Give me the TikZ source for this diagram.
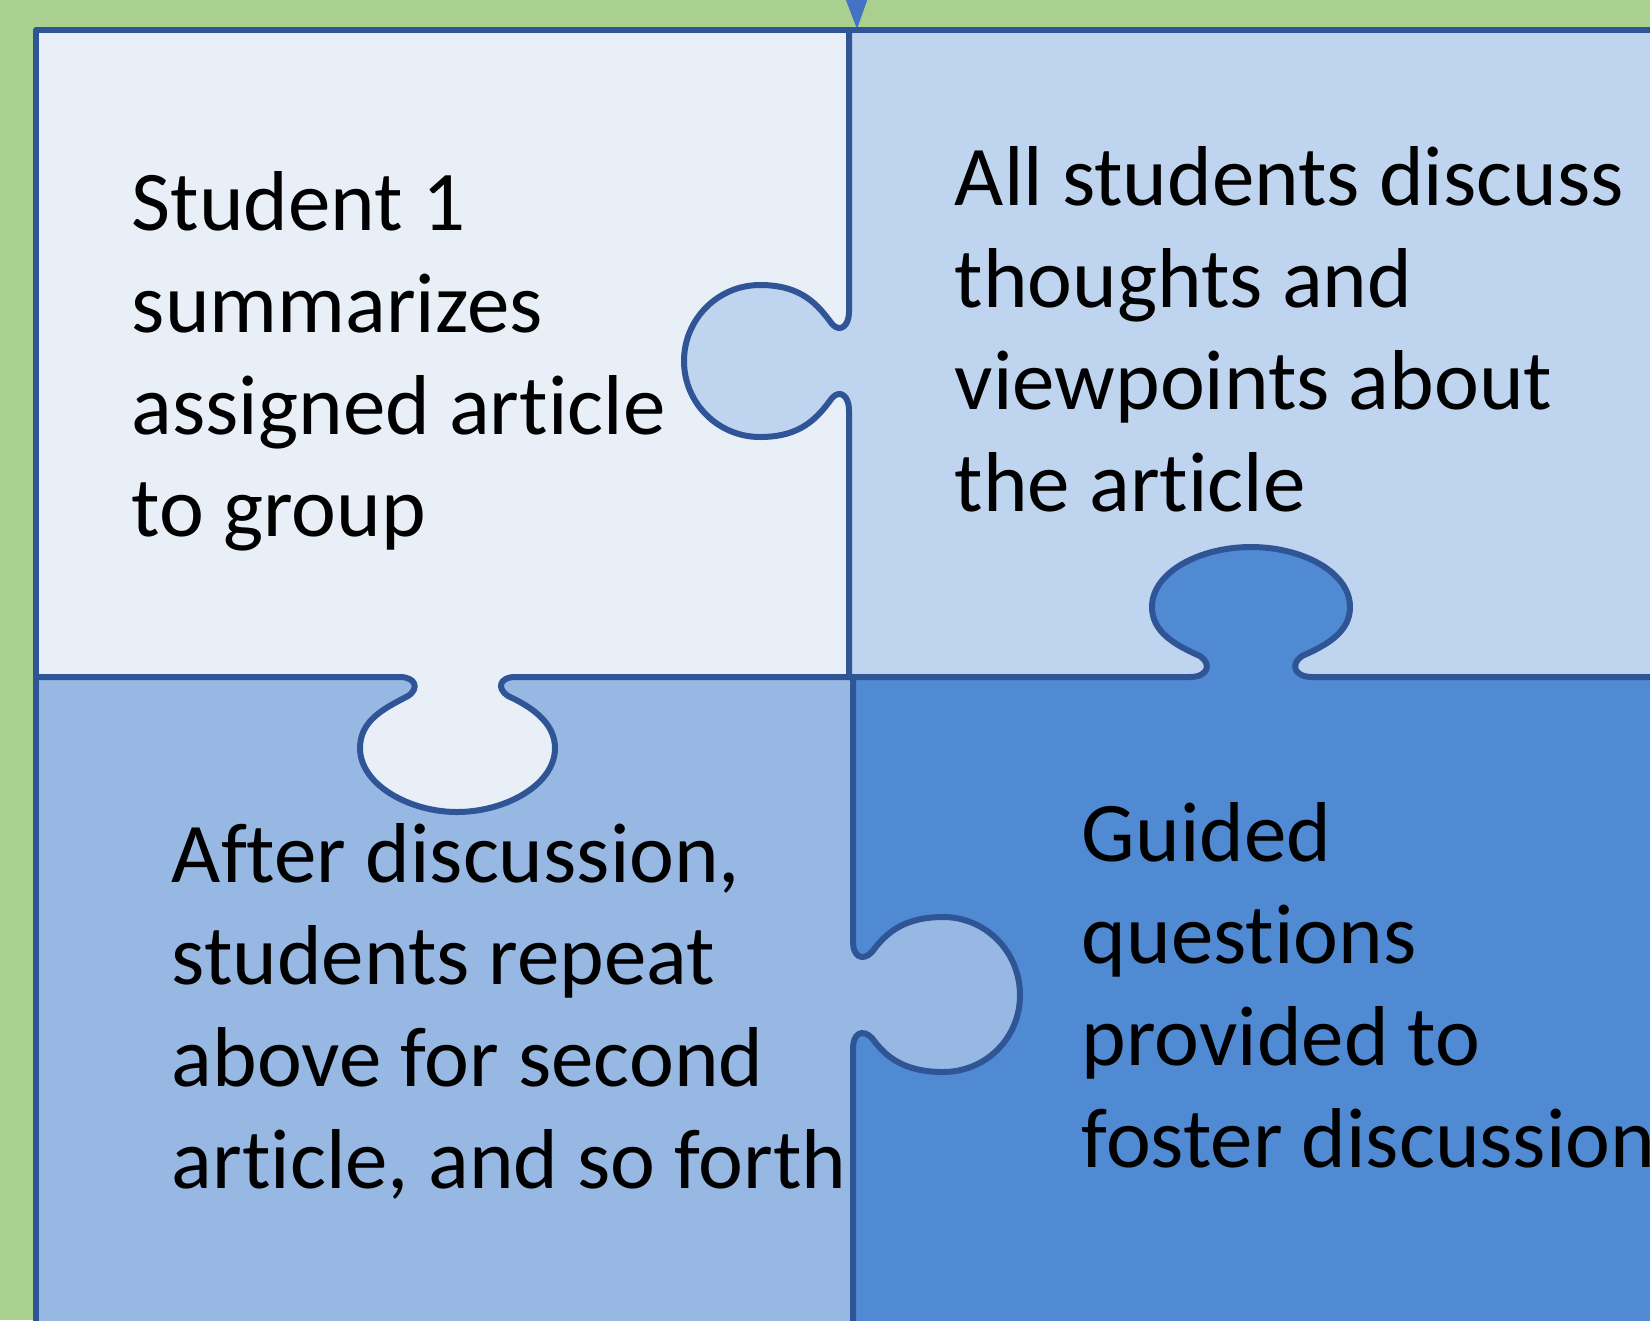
\documentclass[tikz,border=0pt]{standalone}
\usepackage{fontspec}
\setmainfont{Carlito}[Ligatures=NoCommon]

\definecolor{bggreen}{HTML}{A9D08E}
\definecolor{edgeblue}{HTML}{2F5597}
\definecolor{markblue}{HTML}{4472C4}
\definecolor{pieceA}{HTML}{E9EFF7}
\definecolor{pieceB}{HTML}{BFD4EE}
\definecolor{pieceC}{HTML}{96B8E2}
\definecolor{pieceD}{HTML}{508AD2}

% knob outlines, each running along the seam it sits on
% knob of the upper-right piece, pointing left
\def\knobLeft{(849,312) .. controls (849,326) and (840,333) .. (832,324)
  .. controls (818,305) and (802,285) .. (760,285)
  .. controls (718,285) and (684,319) .. (684,361)
  .. controls (684,403) and (718,437) .. (760,437)
  .. controls (802,437) and (818,417) .. (832,398)
  .. controls (840,389) and (849,396) .. (849,410)}
% knob of the upper-left piece, pointing down
\def\knobDown{(400,677) .. controls (415,677) and (420,688) .. (408,696)
  .. controls (385,708) and (360,720) .. (360,748)
  .. controls (360,785) and (410,812) .. (457,812)
  .. controls (505,812) and (555,785) .. (555,748)
  .. controls (555,722) and (530,706) .. (508,696)
  .. controls (496,688) and (500,677) .. (515,677)}
% knob of the lower-right piece, pointing up
\def\knobUp{(1190,677) .. controls (1208,677) and (1212,664) .. (1200,656)
  .. controls (1175,645) and (1152,632) .. (1152,607)
  .. controls (1152,572) and (1200,547) .. (1251,547)
  .. controls (1302,547) and (1350,572) .. (1350,607)
  .. controls (1350,632) and (1327,645) .. (1302,656)
  .. controls (1290,664) and (1294,677) .. (1312,677)}
% knob of the lower-left piece, pointing right
\def\knobRight{(853,942) .. controls (853,956) and (862,962) .. (872,952)
  .. controls (885,934) and (903,917) .. (943,917)
  .. controls (986,917) and (1020,952) .. (1020,995)
  .. controls (1020,1038) and (986,1072) .. (943,1072)
  .. controls (903,1072) and (885,1056) .. (872,1038)
  .. controls (862,1028) and (853,1034) .. (853,1048)}

\begin{document}
\begin{tikzpicture}[x=0.25pt,y=-0.25pt,
  seam/.style={draw=edgeblue, line width=1.5pt, line join=round, line cap=round},
  piecetext/.style={anchor=base west, inner sep=0pt,
    font=\fontsize{21.25}{25.5}\selectfont}]
  \useasboundingbox (0,0) rectangle (1650,1320);
  \clip (0,0) rectangle (1650,1320);

  % backdrop
  \fill[bggreen] (0,0) rectangle (1650,1320);
  \fill[markblue] (844,-5) -- (869,-5) -- (857,29) -- cycle;

  % four pieces
  \fill[pieceA] (36,30) rectangle (849,677);
  \fill[pieceB] (849,30) rectangle (1720,677);
  \fill[pieceC] (36,677) rectangle (853,1400);
  \fill[pieceD] (853,677) rectangle (1720,1400);

  % knobs in the colour of the piece they belong to
  \fill[pieceB] \knobLeft -- cycle;
  \fill[pieceA] \knobDown -- cycle;
  \fill[pieceD] \knobUp -- cycle;
  \fill[pieceC] \knobRight -- cycle;

  % outlines and seams
  \draw[seam] (1720,30) -- (36,30) -- (36,1400);
  \draw[seam] (36,677) -- \knobDown -- \knobUp -- (1720,677);
  \draw[seam] (849,30) -- \knobLeft -- (849,677) -- (853,677) -- \knobRight -- (853,1400);

  % captions
  \node[piecetext] (tl) at (131,230) {\begin{tabular}[t]{@{}l@{}}Student 1\\summarizes\\assigned article\\to group\end{tabular}};
  \node[piecetext] (tr) at (954,205) {\begin{tabular}[t]{@{}l@{}}All students discuss\\thoughts and\\viewpoints about\\the article\end{tabular}};
  \node[piecetext] (bl) at (171,882) {\begin{tabular}[t]{@{}l@{}}After discussion,\\students repeat\\above for second\\article, and so forth\end{tabular}};
  \node[piecetext] (br) at (1081,861) {\begin{tabular}[t]{@{}l@{}}Guided\\questions\\provided to\\foster discussion\end{tabular}};
\end{tikzpicture}
\end{document}
